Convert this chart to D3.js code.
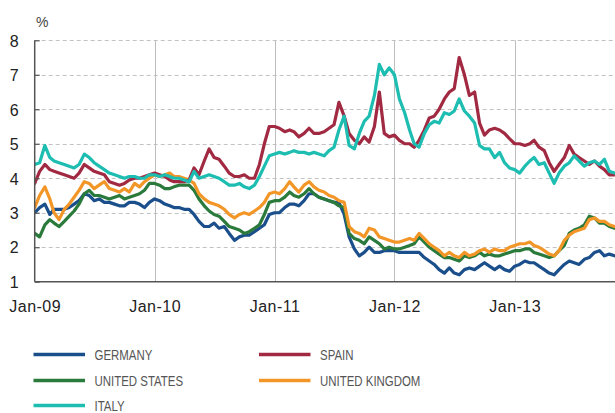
<!DOCTYPE html>
<html>
<head>
<meta charset="utf-8">
<script src="https://cdn.jsdelivr.net/npm/d3@7"></script>
<style>
  html, body { margin: 0; padding: 0; background: #fff; }
  svg { display: block; }
</style>
</head>
<body>
<svg id="chart" width="615" height="413"></svg>
<script>
// ---- Data (semi-monthly readings, 1st and 16th of each month from Jan 2009) ----
const startYear = 2009;
const germany = [3.0,3.15,3.25,2.95,3.1,3.1,3.1,3.15,3.25,3.35,3.55,3.5,3.35,3.4,3.3,3.3,3.25,3.2,3.2,3.3,3.3,3.25,3.15,3.3,
  3.4,3.35,3.25,3.2,3.15,3.15,3.1,3.1,2.95,2.75,2.6,2.6,2.7,2.55,2.6,2.4,2.2,2.3,2.35,2.35,2.45,2.55,2.65,2.95,
  3.0,3.0,3.15,3.25,3.25,3.2,3.35,3.55,3.55,3.45,3.4,3.35,3.3,3.3,2.95,2.3,1.95,1.75,1.85,2.0,1.85,1.85,1.9,1.9,
  1.9,1.85,1.85,1.85,1.85,1.85,1.7,1.6,1.5,1.35,1.25,1.4,1.25,1.2,1.35,1.4,1.35,1.45,1.55,1.45,1.35,1.45,1.35,1.3,
  1.45,1.5,1.6,1.55,1.55,1.45,1.35,1.25,1.2,1.35,1.5,1.6,1.55,1.5,1.65,1.7,1.85,1.9,1.75,1.8,1.75];
const unitedStates = [2.4,2.3,2.65,2.8,2.7,2.6,2.75,2.9,3.05,3.25,3.55,3.65,3.5,3.5,3.45,3.4,3.45,3.5,3.4,3.45,3.5,3.55,3.65,3.85,
  3.85,3.8,3.7,3.7,3.75,3.8,3.8,3.8,3.65,3.4,3.2,3.05,2.95,2.9,2.75,2.6,2.55,2.5,2.4,2.45,2.55,2.65,2.95,3.3,
  3.35,3.35,3.45,3.6,3.5,3.45,3.55,3.7,3.55,3.45,3.4,3.35,3.3,3.2,3.15,2.4,2.25,2.2,2.1,2.3,2.2,2.1,1.95,2.0,
  1.95,1.95,2.0,2.05,2.1,2.3,2.15,2.0,1.9,1.8,1.7,1.7,1.65,1.6,1.75,1.7,1.75,1.85,1.75,1.8,1.75,1.75,1.8,1.85,
  1.9,1.9,1.95,1.95,1.85,1.8,1.75,1.7,1.75,1.9,2.05,2.4,2.5,2.55,2.65,2.9,2.85,2.7,2.7,2.6,2.55];
const unitedKingdom = [3.15,3.5,3.75,3.4,3.0,2.8,3.1,3.25,3.45,3.65,3.9,3.85,3.7,3.8,3.9,3.7,3.65,3.6,3.7,3.6,3.85,3.75,3.9,4.0,
  4.1,4.05,4.1,4.15,4.05,4.05,4.0,3.95,3.85,3.55,3.4,3.3,3.25,3.2,3.1,2.95,2.85,2.95,3.0,2.95,3.05,3.15,3.3,3.55,
  3.6,3.55,3.7,3.9,3.75,3.6,3.8,3.9,3.75,3.65,3.6,3.5,3.45,3.35,3.3,2.6,2.45,2.4,2.3,2.55,2.5,2.3,2.25,2.2,
  2.15,2.15,2.2,2.25,2.2,2.4,2.25,2.1,2.0,1.9,1.75,1.85,1.75,1.7,1.85,1.75,1.8,1.9,1.95,1.85,1.95,1.9,1.9,2.0,
  2.05,2.1,2.1,2.15,2.05,2.0,1.9,1.8,1.75,1.9,2.2,2.35,2.45,2.5,2.55,2.8,2.85,2.75,2.75,2.65,2.6];
const spain = [3.85,4.2,4.4,4.25,4.2,4.15,4.1,4.05,4.0,4.15,4.4,4.3,4.2,4.15,4.1,3.9,3.85,3.8,3.85,3.95,4.0,4.0,4.05,4.1,
  4.15,4.1,4.05,3.95,3.9,3.9,3.9,3.95,4.3,4.1,4.5,4.85,4.6,4.55,4.35,4.15,4.05,4.05,4.1,4.0,4.0,4.4,5.0,5.5,
  5.5,5.45,5.35,5.4,5.35,5.2,5.3,5.45,5.3,5.3,5.35,5.45,5.55,6.2,5.8,5.3,5.1,5.0,5.2,5.05,5.5,6.5,5.3,5.2,
  5.25,5.1,5.0,5.0,4.9,5.1,5.4,5.75,5.8,6.0,6.3,6.5,6.6,7.5,7.0,6.4,6.5,5.6,5.25,5.4,5.45,5.4,5.3,5.15,
  5.0,5.0,4.95,5.0,5.1,4.9,4.8,4.45,4.2,4.4,4.6,4.95,4.7,4.6,4.5,4.4,4.5,4.35,4.25,4.1,4.1];
const italy = [4.4,4.45,4.95,4.6,4.5,4.45,4.4,4.35,4.3,4.4,4.7,4.6,4.45,4.35,4.25,4.15,4.1,4.05,4.0,4.05,4.05,4.0,4.0,4.1,
  4.1,4.05,4.1,4.05,4.0,4.0,3.95,3.9,4.2,4.0,4.05,4.1,4.05,4.0,3.9,3.8,3.8,3.85,3.75,3.7,3.8,4.05,4.35,4.65,
  4.7,4.75,4.7,4.75,4.8,4.75,4.75,4.7,4.75,4.7,4.65,4.8,4.9,5.4,5.8,4.95,4.85,5.3,5.65,5.8,6.4,7.3,7.0,7.2,
  7.0,6.3,5.9,5.4,5.0,4.9,5.3,5.55,5.65,5.6,5.9,5.85,5.95,6.3,5.95,5.8,5.6,4.95,4.85,4.85,4.6,4.75,4.45,4.3,
  4.25,4.15,4.35,4.5,4.6,4.4,4.45,4.15,3.85,4.15,4.35,4.45,4.65,4.5,4.35,4.45,4.5,4.4,4.55,4.2,4.15];

const seriesNames = ["GERMANY", "UNITED STATES", "ITALY", "SPAIN", "UNITED KINGDOM"];
const seriesColors = ["#1a4f8b", "#2a7a3b", "#1dbdb1", "#a12a42", "#f39628"];
const yTicks = [1, 2, 3, 4, 5, 6, 7, 8];
const xTickLabels = ["Jan-09", "Jan-10", "Jan-11", "Jan-12", "Jan-13"];
const yUnit = "%";

// ---- Build ----
const dates = germany.map((_, i) => new Date(startYear, Math.floor(i / 2), i % 2 ? 16 : 1));
const valuesByName = {
  "GERMANY": germany, "UNITED STATES": unitedStates, "ITALY": italy,
  "SPAIN": spain, "UNITED KINGDOM": unitedKingdom
};
const colorOf = d3.scaleOrdinal().domain(seriesNames).range(seriesColors);

const svg = d3.select("#chart");
const pLeft = 34.7, pRight = 615, pTop = 40.3, pBottom = 281.7;
const axisFont = "Liberation Sans, Arial, Helvetica, sans-serif";

const x = d3.scaleTime()
  .domain([new Date(2009, 0, 1), new Date(2013, 0, 1)])
  .range([pLeft, 514.7]);
const y = d3.scaleLinear().domain([1, 8]).range([pBottom, pTop]);

const tickDates = xTickLabels.map((_, i) => new Date(startYear + i, 0, 1));

// clip so lines end at the right edge of the plot
svg.append("clipPath").attr("id", "plotclip").append("rect")
  .attr("x", pLeft).attr("y", 0).attr("width", pRight - pLeft).attr("height", pBottom);

// horizontal dashed gridlines
svg.append("g").selectAll("line").data(yTicks.filter(v => v > 1)).join("line")
  .attr("x1", pLeft).attr("x2", pRight)
  .attr("y1", d => Math.round(y(d)) + 0.5).attr("y2", d => Math.round(y(d)) + 0.5)
  .attr("stroke", "#c2c2c2").attr("stroke-width", 1).attr("stroke-dasharray", "4,3");

// vertical year gridlines
svg.append("g").selectAll("line").data(tickDates.slice(1)).join("line")
  .attr("x1", d => Math.round(x(d)) + 0.5).attr("x2", d => Math.round(x(d)) + 0.5)
  .attr("y1", pTop).attr("y2", pBottom)
  .attr("stroke", "#bdbdbd").attr("stroke-width", 1);

// series lines
const line = d3.line()
  .x((d, i) => x(dates[i]))
  .y(d => y(d))
  .curve(d3.curveLinear);

const drawOrder = ["GERMANY", "UNITED STATES", "UNITED KINGDOM", "SPAIN", "ITALY"];
svg.append("g").attr("clip-path", "url(#plotclip)")
  .selectAll("path").data(drawOrder).join("path")
  .attr("d", n => line(valuesByName[n]))
  .attr("fill", "none")
  .attr("stroke", n => colorOf(n))
  .attr("stroke-width", 3.2)
  .attr("stroke-linejoin", "round")
  .attr("stroke-linecap", "round");

// left axis
const yAxis = d3.axisLeft(y).tickValues(yTicks).tickSize(-5).tickPadding(15)
  .tickFormat(d3.format("d"));
const gy = svg.append("g").attr("transform", `translate(${pLeft},0)`).call(yAxis);
gy.select(".domain").attr("stroke", "#555").attr("stroke-width", 1.5)
  .attr("d", `M0,${pTop}V${pBottom}`);
gy.selectAll(".tick line").attr("stroke", "#555").attr("stroke-width", 1.2);
gy.selectAll(".tick text")
  .attr("fill", "#222").attr("font-family", axisFont)
  .attr("font-size", 16).attr("text-anchor", "middle").attr("x", -20.5).attr("dy", "0.36em");

// bottom axis
const xAxis = d3.axisBottom(x).tickValues(tickDates).tickSize(0).tickPadding(19)
  .tickFormat((d, i) => xTickLabels[i]);
const gx = svg.append("g").attr("transform", `translate(0,${pBottom})`).call(xAxis);
gx.select(".domain").attr("stroke", "#555").attr("stroke-width", 1.5)
  .attr("d", `M${pLeft},0H${pRight}`);
gx.selectAll(".tick text")
  .attr("fill", "#222").attr("font-family", axisFont)
  .attr("font-size", 16).attr("letter-spacing", "0.5px");

// unit label
svg.append("text").attr("x", 36).attr("y", 27).text(yUnit)
  .attr("fill", "#444").attr("font-family", axisFont)
  .attr("font-size", 14);

// legend
const legendPos = {
  "GERMANY": [33.5, 354.5], "SPAIN": [259, 354.5],
  "UNITED STATES": [33.5, 380.5], "UNITED KINGDOM": [259, 380.5],
  "ITALY": [33.5, 405.5]
};
const lg = svg.append("g").selectAll("g").data(seriesNames).join("g")
  .attr("transform", n => `translate(${legendPos[n][0]},${legendPos[n][1]})`);
lg.append("line").attr("x1", 0).attr("x2", 51.5).attr("y1", 0).attr("y2", 0)
  .attr("stroke", n => colorOf(n)).attr("stroke-width", 3.5);
lg.append("text")
  .attr("transform", "translate(61,0) scale(0.79,1)")
  .attr("x", 0).attr("y", 0).attr("dy", "0.36em")
  .text(n => n)
  .attr("fill", "#555")
  .attr("font-family", axisFont)
  .attr("font-size", 14.5);
</script>
</body>
</html>
